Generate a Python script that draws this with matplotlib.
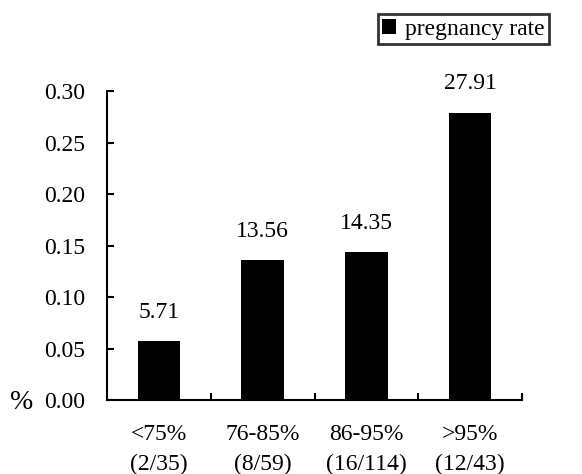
import matplotlib
matplotlib.use("Agg")
import matplotlib.pyplot as plt
import numpy as np

categories = ["<75%\n(2/35)", "76-85%\n(8/59)", "86-95%\n(16/114)", ">95%\n(12/43)"]
rates = [0.0571, 0.1356, 0.1435, 0.2791]
rate_labels = ["5.71", "13.56", "14.35", "27.91"]
y_ticks = [0.00, 0.05, 0.10, 0.15, 0.20, 0.25, 0.30]

plt.rcParams["font.family"] = ["Liberation Serif", "DejaVu Serif"]
FS = 17

fig = plt.figure(figsize=(5.82, 4.74), dpi=100)
ax = fig.add_axes([0.184, 0.156, 0.713, 0.652])

x = np.arange(len(categories))
bars = ax.bar(x, rates, width=0.41, color="black", label="pregnancy rate")

for xi, r, lab in zip(x, rates, rate_labels):
    ax.annotate(lab, (xi, r), xytext=(0, 13), textcoords="offset points",
                ha="center", va="bottom", fontsize=FS)

ax.set_xlim(-0.5, len(categories) - 0.5)
ax.set_ylim(0, 0.30)
ax.set_yticks(y_ticks)
ax.set_yticklabels([f"{t:.2f}" for t in y_ticks], fontsize=FS)
ax.tick_params(axis="y", direction="in", length=5, width=1.5, pad=16)

# category labels centred under bars, ticks at the category boundaries
ax.set_xticks(x)
ax.set_xticklabels(categories, fontsize=FS, linespacing=1.6)
ax.tick_params(axis="x", which="major", length=0, pad=17)
ax.set_xticks(np.arange(len(categories)) + 0.5, minor=True)
ax.tick_params(axis="x", which="minor", direction="in", length=5, width=1.5)

for s in ["top", "right"]:
    ax.spines[s].set_visible(False)
for s in ["left", "bottom"]:
    ax.spines[s].set_linewidth(1.5)

fig.text(0.017, 0.150, "%", fontsize=20, va="center", ha="left")

leg = ax.legend(loc="upper right", bbox_to_anchor=(1.065, 1.249), fontsize=FS,
                frameon=True, fancybox=False, edgecolor="black",
                handlelength=0.6, handleheight=0.6, handletextpad=0.35,
                borderpad=0.2, borderaxespad=0)
leg.get_frame().set_linewidth(2)

fig.savefig("out.png", dpi=100)
